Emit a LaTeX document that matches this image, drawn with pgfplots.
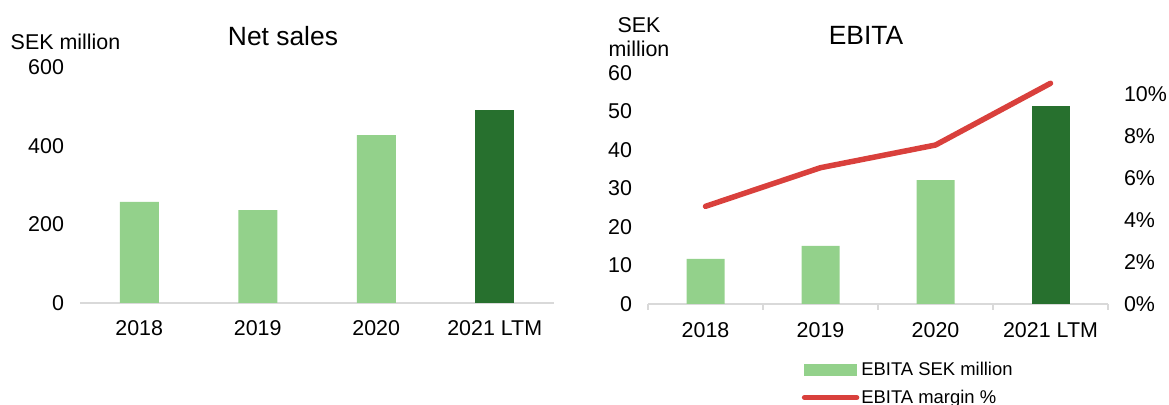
\documentclass[border=0pt]{standalone}
\usepackage{fontspec}
\setmainfont{Liberation Sans}
\usepackage{pgfplots}
\pgfplotsset{compat=1.18}
\definecolor{lgreen}{RGB}{147,209,139}
\definecolor{dgreen}{RGB}{39,112,46}
\definecolor{mred}{RGB}{217,64,60}
\definecolor{axgray}{RGB}{217,217,217}
\newcommand{\tickfont}{\fontsize{21.5}{25}\selectfont}
\newcommand{\titlefont}{\fontsize{26.5}{31}\selectfont}
\begin{document}
\begin{tikzpicture}
\path[use as bounding box] (0,0) rectangle (1169bp,405bp);
% ---------- Net sales ----------
\begin{axis}[
  at={(80bp,102bp)}, anchor=south west, scale only axis,
  width=474bp, height=236bp,
  xmin=-0.5, xmax=3.5, ymin=0, ymax=600,
  axis x line*=bottom, axis y line*=left,
  x axis line style={draw=axgray, line width=1.5bp},
  y axis line style={draw=none},
  xtick={0,1,2,3}, xticklabels={2018,2019,2020,2021 LTM},
  ytick={0,200,400,600}, yticklabels={0,200,400,600},
  major tick length=0pt,
  tick label style={font=\tickfont},
  xticklabel style={yshift=-14bp},
  yticklabel style={xshift=-12.5bp},
  clip=false,
]
\addplot[ybar, bar width=39bp, bar shift=0pt, fill=lgreen, draw=none] coordinates {(0,257) (1,236) (2,427)};
\addplot[ybar, bar width=39bp, bar shift=0pt, fill=dgreen, draw=none] coordinates {(3,491)};
\end{axis}
\node[anchor=base, font=\titlefont] at (283bp,359bp) {Net sales};
\node[anchor=base, font=\tickfont] at (65.5bp,355bp) {SEK million};
% ---------- EBITA ----------
\begin{axis}[
  at={(648bp,101bp)}, anchor=south west, scale only axis,
  width=460bp, height=231bp,
  xmin=-0.5, xmax=3.5, ymin=0, ymax=60,
  axis x line*=bottom, axis y line*=left,
  x axis line style={draw=axgray, line width=1.5bp},
  y axis line style={draw=none},
  xtick={0,1,2,3}, xticklabels={2018,2019,2020,2021 LTM},
  minor xtick={-0.5,0.5,1.5,2.5,3.5},
  major tick length=0pt, minor tick length=6bp, tick align=outside,
  every minor tick/.append style={draw=axgray, line width=1.5bp},
  ytick={0,10,20,30,40,50,60}, yticklabels={0,10,20,30,40,50,60},
  tick label style={font=\tickfont},
  xticklabel style={yshift=-15bp},
  yticklabel style={xshift=-12.5bp},
  clip=false,
]
\addplot[ybar, bar width=38bp, bar shift=0pt, fill=lgreen, draw=none] coordinates {(0,11.7) (1,15.1) (2,32.2)};
\addplot[ybar, bar width=38bp, bar shift=0pt, fill=dgreen, draw=none] coordinates {(3,51.5)};
\end{axis}
\begin{axis}[
  at={(648bp,101bp)}, anchor=south west, scale only axis,
  width=460bp, height=231bp,
  xmin=-0.5, xmax=3.5, ymin=0, ymax=11,
  axis x line=none, axis y line*=right,
  y axis line style={draw=none},
  ytick={0,2,4,6,8,10}, yticklabels={0\%,2\%,4\%,6\%,8\%,10\%},
  major tick length=0pt,
  tick label style={font=\tickfont},
  yticklabel style={xshift=12.5bp},
  clip=false,
  legend style={at={(0.334,-0.243)}, anchor=north west, draw=none, fill=none,
    font=\fontsize{18.5}{22}\selectfont, inner sep=0pt, row sep=9bp,
    /tikz/every even column/.append style={column sep=4bp}},
  legend cell align=left,
]
\addlegendimage{legend image code/.code={\fill[lgreen] (0bp,-5.5bp) rectangle (52bp,5.5bp);}}
\addlegendentry{EBITA SEK million}
\addplot[mred, line width=5.5bp, line cap=round, line join=round,
  legend image code/.code={\draw[mred, line width=5.5bp, line cap=round] (0bp,0bp) -- (52bp,0bp);}]
  coordinates {(0,4.65) (1,6.49) (2,7.57) (3,10.51)};
\addlegendentry{EBITA margin \%}
\end{axis}
\node[anchor=base, font=\tickfont] at (639bp,372bp) {SEK};
\node[anchor=base, font=\tickfont] at (639bp,348bp) {million};
\node[anchor=base, font=\titlefont] at (866bp,360bp) {EBITA};
\end{tikzpicture}
\end{document}
